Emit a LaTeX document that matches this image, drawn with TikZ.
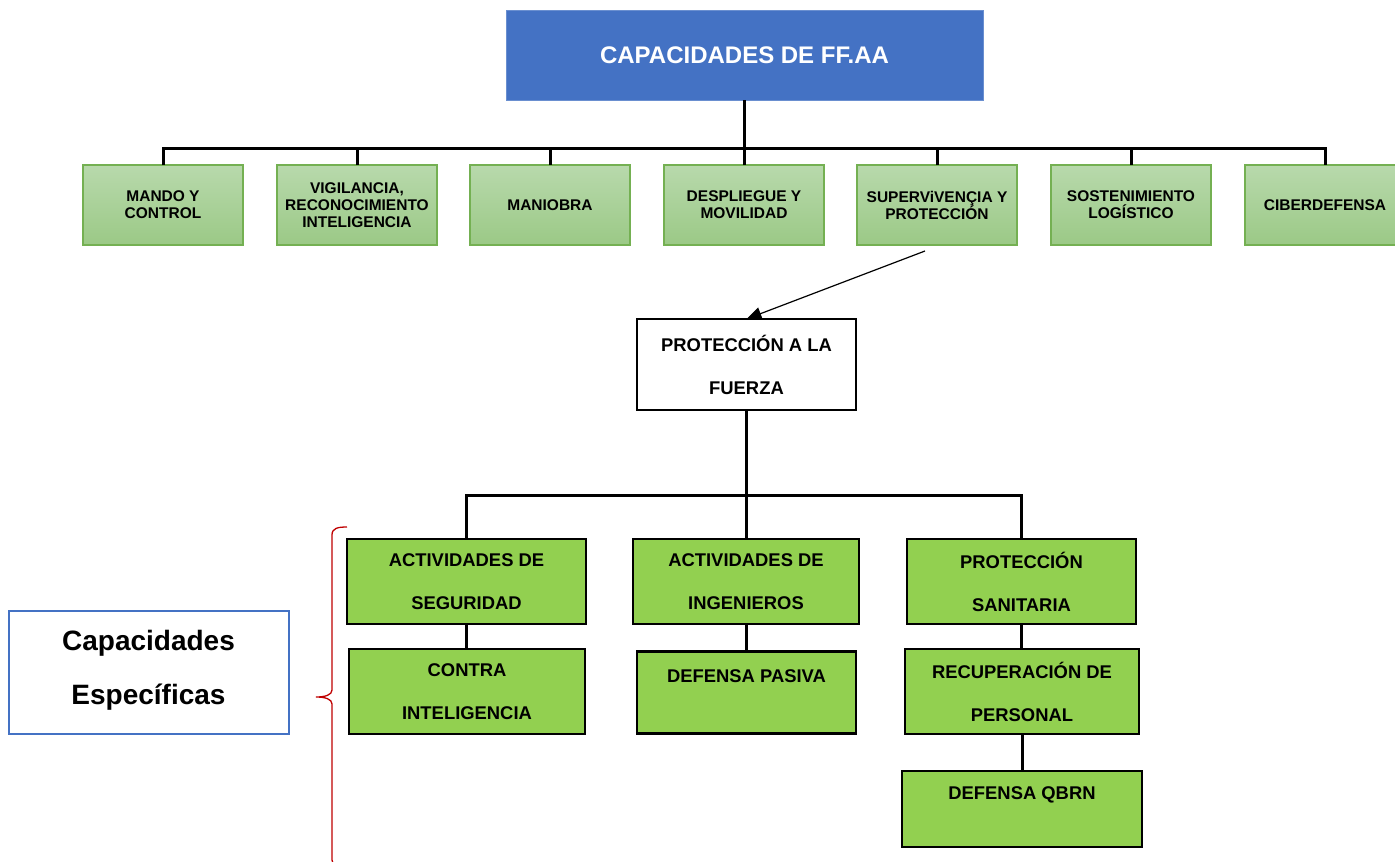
\documentclass[tikz,border=0pt]{standalone}
\usepackage{fontspec}
\setmainfont{Liberation Sans}
\usetikzlibrary{arrows.meta,calc}
\definecolor{topblue}{HTML}{4472C4}
\definecolor{topblueedge}{HTML}{6A8FD0}
\definecolor{lgtop}{HTML}{B8D9AC}
\definecolor{lgbot}{HTML}{9BC986}
\definecolor{lgedge}{HTML}{74B052}
\definecolor{brightgreen}{HTML}{92D050}
\definecolor{bracered}{HTML}{C00000}
\begin{document}
\begin{tikzpicture}[x=1pt,y=-1pt,
  every node/.style={inner sep=0pt,outer sep=0pt,font=\bfseries},
  titlebox/.style={rectangle,fill=topblue,draw=topblueedge,line width=1pt,text=white,
    minimum width=477pt,minimum height=90pt,font=\fontsize{24}{28}\selectfont\bfseries},
  capbox/.style={rectangle,top color=lgtop,bottom color=lgbot,draw=lgedge,line width=1.2pt,
    minimum width=160pt,minimum height=80pt,align=center,
    font=\fontsize{15.5}{17}\selectfont\bfseries},
  whitebox/.style={rectangle,fill=white,draw=black,line width=2pt,align=center,
    font=\fontsize{18.4}{43}\selectfont\bfseries},
  greenbox/.style={rectangle,fill=brightgreen,draw=black,line width=2.5pt,align=center,
    font=\fontsize{18.4}{43}\selectfont\bfseries},
  bluebox/.style={rectangle,fill=white,draw=topblue,line width=2pt},
  conn/.style={draw=black,line width=3pt},
  bigtext/.style={align=center,font=\fontsize{28}{54}\selectfont\bfseries}
]
\useasboundingbox (0,0) rectangle (1395,862);
\fill[white] (0,0) rectangle (1395,862);

% title
\node[titlebox] (top) at (744.5,55) {CAPACIDADES DE FF.AA};

% first level
\node[capbox] (b1) at (163,205) {MANDO Y\\CONTROL};
\node[capbox] (b2) at (357,205) {VIGILANCIA,\\RECONOCIMIENTO\\INTELIGENCIA};
\node[capbox] (b3) at (550,205) {MANIOBRA};
\node[capbox] (b4) at (744,205) {DESPLIEGUE Y\\MOVILIDAD};
\node[capbox] (b5) at (937,205) {SUPERViVENÇIA Y\\PROTECCIÓN};
\node[capbox] (b6) at (1131,205) {SOSTENIMIENTO\\LOGÍSTICO};
\node[capbox] (b7) at (1325,205) {CIBERDEFENSA};

% bus level 1
\draw[conn] (top.south) -- (top.south |- 0,148);
\draw[conn] (b1.north) -- ++(0,-17) -| (b7.north);
\foreach \b in {b2,b3,b4,b5,b6}{
  \draw[conn] (\b.north) -- ++(0,-17);
}

% proteccion a la fuerza
\node[whitebox,minimum width=219pt,minimum height=91pt] (pf) at (746.5,364.5) {PROTECCIÓN A LA\\FUERZA};
\coordinate (arrstart) at (925,251);
\draw[line width=1.2pt,-{Triangle[length=15pt,width=13pt]}] (arrstart) -- (pf.north);

% second level
\node[greenbox,minimum width=239pt,minimum height=85pt] (seg) at (466.5,581.5) {ACTIVIDADES DE\\SEGURIDAD};
\node[greenbox,minimum width=236pt,minimum height=85pt] (ci) at (467,691.5) {CONTRA\\INTELIGENCIA};
\node[greenbox,minimum width=226pt,minimum height=85pt] (ing) at (746,581.5) {ACTIVIDADES DE\\INGENIEROS};
\node[greenbox,minimum width=219pt,minimum height=82pt,text height=13pt,text depth=34pt] (dp) at (746.5,692.5) {DEFENSA PASIVA};
\node[greenbox,minimum width=229pt,minimum height=85pt] (san) at (1021.5,581.5) {PROTECCIÓN\\SANITARIA};
\node[greenbox,minimum width=234pt,minimum height=85pt] (rec) at (1022,691.5) {RECUPERACIÓN DE\\PERSONAL};
\node[greenbox,minimum width=240pt,minimum height=76pt,text height=13pt,text depth=32pt] (qb) at (1022,809) {DEFENSA QBRN};

% connectors level 2
\draw[conn] (pf.south) -- (pf.south |- ing.north);
\draw[conn] (seg.north) -- ++(0,-44) -| (san.north);
\draw[conn] (seg.south) -- (seg.south |- ci.north);
\draw[conn] (ing.south) -- (ing.south |- dp.north);
\draw[conn] (san.south) -- (san.south |- rec.north);
\draw[conn] (rec.south) -- (rec.south |- qb.north);

% capacidades especificas
\node[bluebox,minimum width=280pt,minimum height=123pt] (ce) at (148.5,672.5) {};
\node[bigtext] (cetext) at (148.5,670) {Capacidades\\Específicas};

% brace
\draw[bracered,line width=1.3pt]
  (347,527) .. controls (338,527) and (332,528) .. (332,535)
  -- (332,690) .. controls (332,695) and (325,697) .. (316,697)
  .. controls (325,697) and (332,699) .. (332,704)
  -- (332,860) .. controls (332,866) and (338,867) .. (347,867);
\end{tikzpicture}
\end{document}
